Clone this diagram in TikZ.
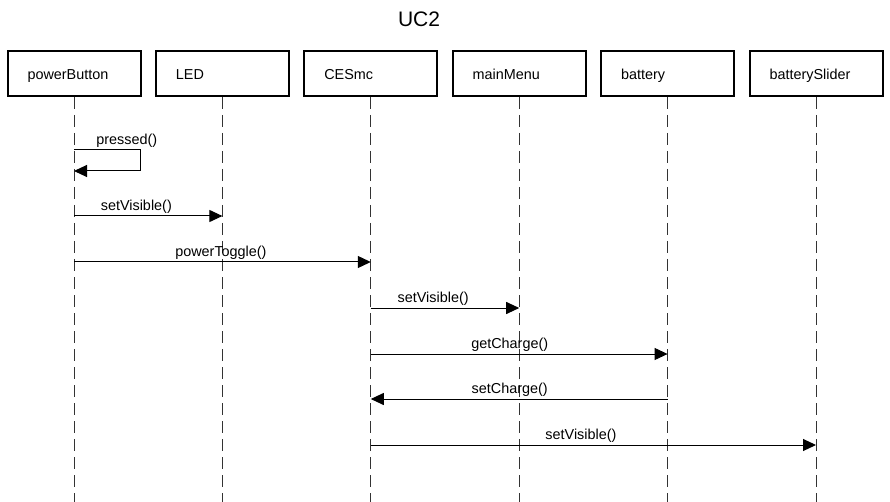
\documentclass[tikz,border=0pt]{standalone}
\usepackage{fontspec}
\setmainfont{Liberation Sans}
\usepackage{tikz}
\usetikzlibrary{arrows.meta}

\tikzset{
    objbox/.style={draw=black,line width=2pt,minimum height=45pt,text width=93pt,inner xsep=20pt,inner ysep=0pt,align=left,text height=13pt,text depth=0pt},
    lifeline/.style={draw=black!80,line width=1pt,dash pattern=on 12pt off 6pt},
    msg/.style={line width=1pt,-{Triangle[length=13pt,width=12pt]}},
    lbl/.style={above,inner sep=2pt}
}

\begin{document}
\begin{tikzpicture}[x=1pt,y=-1pt,font=\fontsize{14.4}{16}\selectfont]
        \useasboundingbox (0,0) rectangle (890,502);
        \node[font=\fontsize{21}{24}\selectfont] (title) at (419,19) {UC2};
        % objects and lifelines
        \foreach \nm/\txt [count=\i from 0] in {pb/powerButton,led/LED,ces/CESmc,menu/mainMenu,bat/battery,slider/batterySlider}{
            \node[objbox] (\nm) at ({74+148.4*\i},73.5) {\txt};
            \coordinate (\nm-end) at ({74+148.4*\i},502);
            \draw[lifeline] (\nm) -- (\nm-end);
        }
        % message rows
        \coordinate (loopa) at (140,150);
        \coordinate (loopb) at (140,171);
        \coordinate (r1) at (0,216);
        \coordinate (r2) at (0,262);
        \coordinate (r3) at (0,308);
        \coordinate (r4) at (0,354);
        \coordinate (r5) at (0,399);
        \coordinate (r6) at (0,445);
        \draw[msg] (pb |- loopa) -- node[lbl,pos=0.8]{pressed()} (loopa) -- (loopb) -- (pb |- loopb);
        \draw[msg] (pb |- r1) -- node[lbl,pos=0.42]{setVisible()} (led |- r1);
        \draw[msg] (pb |- r2) -- node[lbl,pos=0.495]{powerToggle()} (ces |- r2);
        \draw[msg] (ces |- r3) -- node[lbl,pos=0.42]{setVisible()} (menu |- r3);
        \draw[msg] (ces |- r4) -- node[lbl,pos=0.468]{getCharge()} (bat |- r4);
        \draw[msg] (bat |- r5) -- node[lbl,pos=0.532]{setCharge()} (ces |- r5);
        \draw[msg] (ces |- r6) -- node[lbl,pos=0.472]{setVisible()} (slider |- r6);
    \end{tikzpicture}
\end{document}
